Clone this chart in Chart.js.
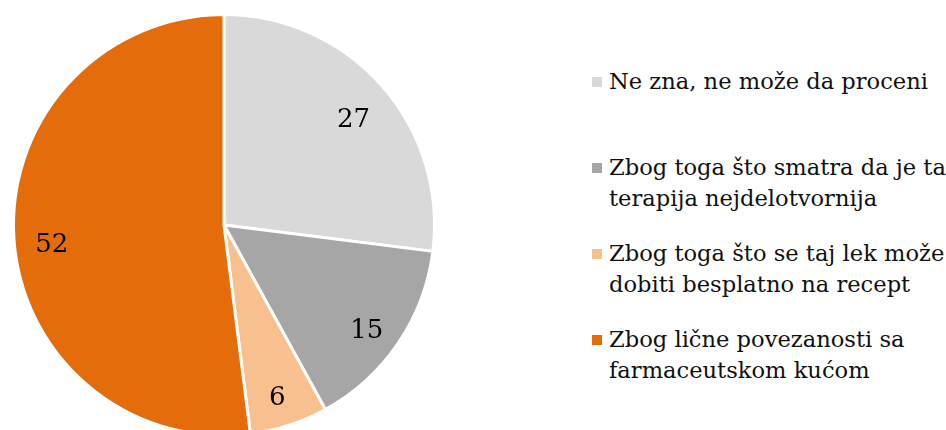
<!DOCTYPE html>
<html lang="sr">
<head>
<meta charset="UTF-8">
<title>Pie</title>
<script src="https://cdn.jsdelivr.net/npm/chart.js"></script>
<style>
    html, body { margin: 0; padding: 0; background: #fff; overflow: hidden; }
    body { width: 946px; height: 430px; position: relative; }
    .pie-box { position: absolute; left: 0; top: 0; width: 448px; height: 450px; }
    .legend { position: absolute; left: 590px; top: 66px; font-family: 'DejaVu Serif', serif; font-size: 22.6px; color: #111; }
    .legend .item { position: relative; height: 86px; padding-left: 19px; line-height: 31px; white-space: nowrap; }
    .legend .box { position: absolute; left: 2px; top: 11px; width: 10px; height: 10px; }
</style>
</head>
<body>
<div class="pie-box"><canvas id="pie"></canvas></div>
<div class="legend" id="legend"></div>

<script>
const categories = [
    ['Ne zna, ne može da proceni'],
    ['Zbog toga što smatra da je ta', 'terapija nejdelotvornija'],
    ['Zbog toga što se taj lek može', 'dobiti besplatno na recept'],
    ['Zbog lične povezanosti sa', 'farmaceutskom kućom']
];
const values = [27, 15, 6, 52];
const colors = ['#d9d9d9', '#a6a6a6', '#f9c08f', '#e46c0a'];

// brojevi u isečcima
const sliceLabels = {
    id: 'sliceLabels',
    afterDatasetsDraw(chart) {
        const ctx = chart.ctx;
        const meta = chart.getDatasetMeta(0);
        ctx.save();
        ctx.font = '26px "DejaVu Serif", serif';
        ctx.fillStyle = '#000';
        ctx.textAlign = 'center';
        ctx.textBaseline = 'middle';
        meta.data.forEach((arc, i) => {
            const mid = (arc.startAngle + arc.endAngle) / 2;
            const r = arc.outerRadius * 0.82;
            ctx.fillText(values[i], arc.x + Math.cos(mid) * r, arc.y + Math.sin(mid) * r + 9);
        });
        ctx.restore();
    }
};

new Chart(document.getElementById('pie'), {
    type: 'pie',
    data: {
        labels: categories,
        datasets: [{
            data: values,
            backgroundColor: colors,
            borderColor: '#fff',
            borderWidth: 3
        }]
    },
    options: {
        responsive: true,
        maintainAspectRatio: false,
        animation: false,
        layout: { padding: 12 },
        plugins: {
            legend: { display: false },
            tooltip: { enabled: false }
        }
    },
    plugins: [sliceLabels]
});

const legend = document.getElementById('legend');
categories.forEach((lines, i) => {
    const item = document.createElement('div');
    item.className = 'item';
    const box = document.createElement('span');
    box.className = 'box';
    box.style.background = colors[i];
    item.appendChild(box);
    lines.forEach(t => {
        const d = document.createElement('div');
        d.textContent = t;
        item.appendChild(d);
    });
    legend.appendChild(item);
});
</script>
</body>
</html>
